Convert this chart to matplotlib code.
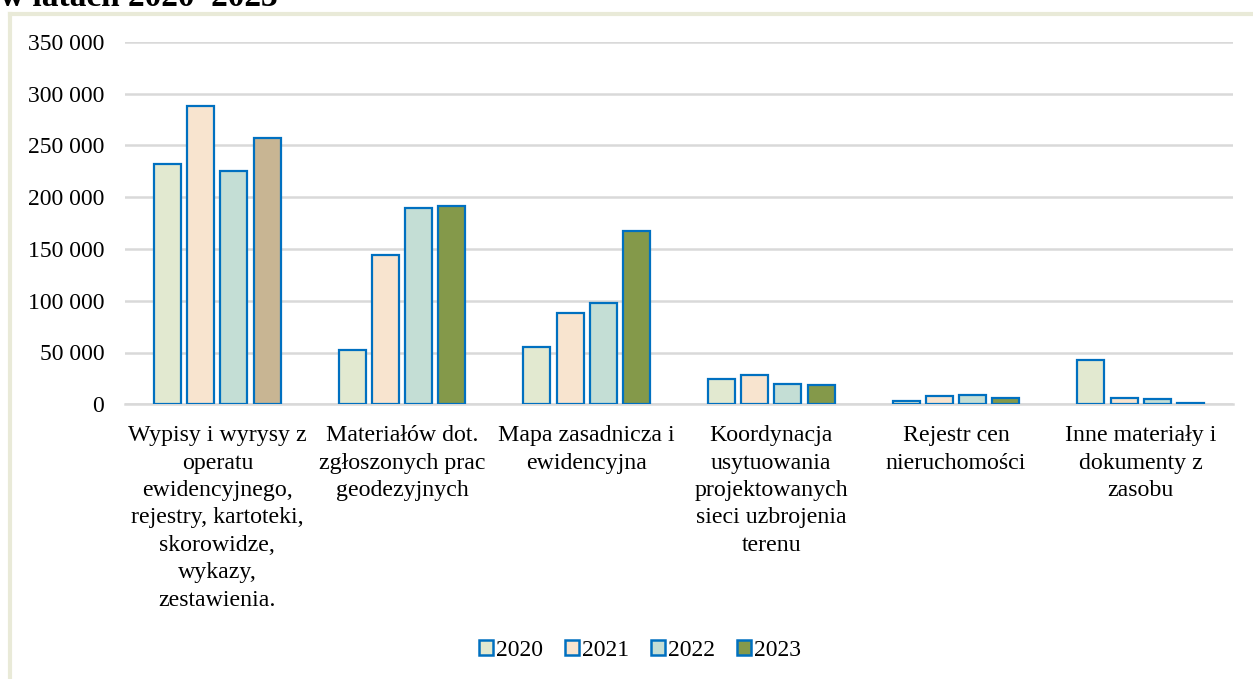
import matplotlib.pyplot as plt
import numpy as np
from matplotlib.patches import Rectangle
from matplotlib.lines import Line2D

plt.rcParams['font.family'] = ['Liberation Serif', 'DejaVu Serif']

categories = [
    'Wypisy i wyrysy z\noperatu\newidencyjnego,\nrejestry, kartoteki,\nskorowidze,\nwykazy,\nzestawienia.',
    'Materiałów dot.\nzgłoszonych prac\ngeodezyjnych',
    'Mapa zasadnicza i\newidencyjna',
    'Koordynacja\nusytuowania\nprojektowanych\nsieci uzbrojenia\nterenu',
    'Rejestr cen\nnieruchomości',
    'Inne materiały i\ndokumenty z\nzasobu',
]
years = ['2020', '2021', '2022', '2023']
v2020 = [232400, 52500, 55100, 24800, 3500, 42500]
v2021 = [287800, 144100, 88600, 28300, 8000, 6400]
v2022 = [225300, 189600, 98000, 19300, 8700, 5100]
v2023 = [256600, 191100, 167600, 19000, 5800, 1500]

colors = ['#e2e9d0', '#f8e4cf', '#c4ded5', '#84994a']
edge = '#0070c0'

fig = plt.figure(figsize=(12.53, 6.79), dpi=100)
W, H = 1253, 679
ax = fig.add_axes([125 / W, (H - 404.3) / H, 1108 / W, 362.6 / H])

x = np.arange(len(categories))
width = 0.146
step = 0.18
for i, vals in enumerate([v2020, v2021, v2022, v2023]):
    bars = ax.bar(x + (i - 1.5) * step, vals, width, color=colors[i],
                  edgecolor=edge, linewidth=1.6, zorder=3)
    if i == 3:
        bars[0].set_facecolor('#c8b593')

ax.set_xlim(-0.5, len(categories) - 0.5)
ax.set_ylim(0, 350000)
ax.set_yticks(range(0, 350001, 50000))
ax.set_yticklabels([f'{v:,}'.replace(',', ' ') for v in range(0, 350001, 50000)], fontsize=17)
ax.yaxis.grid(True, color='#d9d9d9', linewidth=1.8, zorder=0)
ax.set_xticks(x)
ax.set_xticklabels(categories, fontsize=17.2, linespacing=1.4, va='top')
ax.tick_params(length=0)
ax.tick_params(axis='y', pad=15)
ax.tick_params(axis='x', pad=15)
for s in ['top', 'right', 'left']:
    ax.spines[s].set_visible(False)
ax.spines['bottom'].set_color('#d9d9d9')
ax.spines['bottom'].set_linewidth(1.8)

handles = [Rectangle((0, 0), 1, 1, facecolor=c, edgecolor=edge, linewidth=1.8) for c in colors]
fig.legend(handles, years, loc='center', bbox_to_anchor=(640 / W, 1 - 650 / H),
           ncol=4, frameon=False, fontsize=17, handlelength=0.6, handleheight=0.6,
           handletextpad=0.15, columnspacing=0.9)

# ramka wykresu
fig.add_artist(Line2D([10 / W, 10 / W], [0, 1 - 14 / H], color='#e9ead8', linewidth=3))
fig.add_artist(Line2D([10 / W, 1], [1 - 14 / H, 1 - 14 / H], color='#e9ead8', linewidth=3))

fig.text(0, 1 - 6 / H, 'w latach 2020–2023', fontsize=24, fontweight='bold', va='baseline')

fig.savefig('out.png', dpi=100)
